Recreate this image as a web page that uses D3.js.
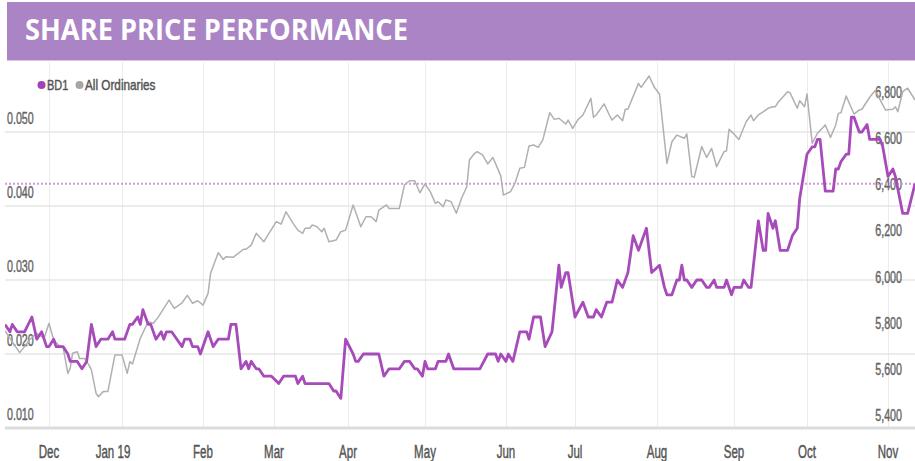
<!DOCTYPE html>
<html>
<head>
<meta charset="utf-8">
<script src="https://cdn.jsdelivr.net/npm/d3@7"></script>
<style>
  html, body { margin: 0; padding: 0; background: #ffffff; }
  svg { display: block; }
</style>
</head>
<body>
<svg id="chart" width="915" height="461"></svg>
<script>
// ---------------- DATA ----------------
const titleText = "SHARE PRICE PERFORMANCE";
const seriesNames = ["BD1", "All Ordinaries"];

const bd1Dates = [
 "2018-11-13","2018-11-15","2018-11-16","2018-11-18","2018-11-21","2018-11-24","2018-11-26","2018-11-28","2018-11-30",
 "2018-12-01","2018-12-03","2018-12-04","2018-12-07","2018-12-09","2018-12-10","2018-12-13","2018-12-15","2018-12-17",
 "2018-12-19","2018-12-21","2018-12-23","2018-12-26","2018-12-28","2018-12-29",
 "2019-01-02","2019-01-04","2019-01-05","2019-01-07","2019-01-08","2019-01-09","2019-01-11","2019-01-12","2019-01-14",
 "2019-01-16","2019-01-17","2019-01-18","2019-01-20","2019-01-22","2019-01-24","2019-01-25","2019-01-27","2019-01-28",
 "2019-01-30","2019-01-31",
 "2019-02-03","2019-02-05","2019-02-07","2019-02-11","2019-02-12","2019-02-14","2019-02-16","2019-02-18","2019-02-19",
 "2019-02-20","2019-02-22","2019-02-23","2019-02-25","2019-02-28",
 "2019-03-03","2019-03-05","2019-03-10","2019-03-11","2019-03-13","2019-03-14","2019-03-24","2019-03-26","2019-03-27",
 "2019-03-29","2019-03-31",
 "2019-04-03","2019-04-04","2019-04-05","2019-04-07","2019-04-13","2019-04-15","2019-04-17","2019-04-21","2019-04-23",
 "2019-04-25","2019-04-27","2019-04-28","2019-04-30",
 "2019-05-01","2019-05-02","2019-05-05","2019-05-06","2019-05-09","2019-05-10","2019-05-12","2019-05-22","2019-05-25",
 "2019-05-28","2019-05-29","2019-05-30",
 "2019-06-01","2019-06-02","2019-06-04","2019-06-07","2019-06-10","2019-06-11","2019-06-13","2019-06-16","2019-06-18",
 "2019-06-21","2019-06-24","2019-06-25","2019-06-27","2019-06-28",
 "2019-07-01","2019-07-04","2019-07-06","2019-07-08","2019-07-09","2019-07-11","2019-07-13","2019-07-15","2019-07-17",
 "2019-07-19","2019-07-21","2019-07-23","2019-07-25","2019-07-28","2019-07-30",
 "2019-08-02","2019-08-04","2019-08-05","2019-08-07","2019-08-09","2019-08-10","2019-08-11","2019-08-12","2019-08-13",
 "2019-08-15","2019-08-17","2019-08-19","2019-08-21","2019-08-22","2019-08-24","2019-08-25","2019-08-28","2019-08-29",
 "2019-08-31",
 "2019-09-01","2019-09-04","2019-09-05","2019-09-07","2019-09-08","2019-09-11","2019-09-13","2019-09-14","2019-09-15",
 "2019-09-17","2019-09-18","2019-09-20","2019-09-23","2019-09-25","2019-09-27","2019-09-28","2019-09-29",
 "2019-10-01","2019-10-03","2019-10-04","2019-10-05","2019-10-06","2019-10-08","2019-10-11","2019-10-12","2019-10-13",
 "2019-10-14","2019-10-16","2019-10-17","2019-10-18","2019-10-19","2019-10-21","2019-10-22","2019-10-24","2019-10-25",
 "2019-10-27","2019-10-29","2019-10-30",
 "2019-11-01","2019-11-03","2019-11-04","2019-11-07","2019-11-09","2019-11-12"
];
const bd1Values = [
 0.024,0.023,0.024,0.023,0.023,0.025,0.022,0.023,0.021,
 0.021,0.022,0.021,0.021,0.020,0.019,0.019,0.018,0.019,
 0.024,0.021,0.022,0.022,0.023,0.022,
 0.022,0.024,0.024,0.025,0.024,0.026,0.024,0.024,0.022,
 0.023,0.022,0.023,0.023,0.022,0.021,0.022,0.022,0.021,
 0.021,0.020,
 0.023,0.021,0.022,0.022,0.024,0.024,0.018,0.019,0.018,
 0.019,0.018,0.018,0.017,0.017,
 0.016,0.017,0.017,0.016,0.017,0.016,0.016,0.015,0.015,
 0.014,0.022,
 0.020,0.019,0.019,0.020,0.020,0.017,0.018,0.018,0.019,
 0.019,0.018,0.018,0.017,
 0.019,0.018,0.018,0.019,0.019,0.020,0.018,0.018,0.020,
 0.020,0.019,0.020,
 0.019,0.020,0.019,0.023,0.023,0.022,0.025,0.025,0.021,
 0.023,0.032,0.029,0.031,0.031,
 0.025,0.027,0.025,0.025,0.026,0.025,0.027,0.027,0.030,
 0.029,0.031,0.036,0.034,0.037,0.031,
 0.032,0.029,0.028,0.028,0.030,0.030,0.032,0.030,0.030,
 0.029,0.030,0.030,0.029,0.029,0.030,0.029,0.029,0.030,
 0.028,
 0.029,0.029,0.030,0.029,0.029,0.038,0.034,0.034,0.039,
 0.037,0.038,0.034,0.034,0.036,0.037,0.041,0.043,
 0.047,0.048,0.048,0.049,0.049,0.042,0.042,0.045,0.045,
 0.046,0.047,0.047,0.052,0.052,0.050,0.050,0.051,0.049,
 0.049,0.049,0.048,
 0.044,0.045,0.044,0.039,0.039,0.043
];

const aordDates = [
 "2018-11-13","2018-11-16","2018-11-19","2018-11-21","2018-11-23","2018-11-26","2018-11-29",
 "2018-12-01","2018-12-03","2018-12-05","2018-12-07","2018-12-09","2018-12-10","2018-12-11","2018-12-13","2018-12-14",
 "2018-12-16","2018-12-18","2018-12-19","2018-12-21","2018-12-22","2018-12-24","2018-12-26","2018-12-29",
 "2019-01-01","2019-01-03","2019-01-04","2019-01-05","2019-01-08","2019-01-11","2019-01-13","2019-01-15","2019-01-17",
 "2019-01-19","2019-01-21","2019-01-24","2019-01-26","2019-01-28","2019-01-30",
 "2019-02-01","2019-02-03","2019-02-04","2019-02-07","2019-02-09","2019-02-10","2019-02-13","2019-02-14","2019-02-17",
 "2019-02-18","2019-02-20","2019-02-22","2019-02-25","2019-02-27",
 "2019-03-02","2019-03-04","2019-03-06","2019-03-09","2019-03-11","2019-03-13","2019-03-14","2019-03-16","2019-03-17",
 "2019-03-19","2019-03-21","2019-03-22","2019-03-24","2019-03-27","2019-03-29","2019-03-31",
 "2019-04-03","2019-04-06","2019-04-08","2019-04-10","2019-04-12","2019-04-13","2019-04-14","2019-04-16","2019-04-17",
 "2019-04-21","2019-04-23","2019-04-25","2019-04-27","2019-04-29",
 "2019-05-01","2019-05-03","2019-05-05","2019-05-06","2019-05-08","2019-05-09","2019-05-11","2019-05-13","2019-05-15",
 "2019-05-17","2019-05-18","2019-05-20","2019-05-21","2019-05-23","2019-05-25","2019-05-27","2019-05-30","2019-05-31",
 "2019-06-03","2019-06-05","2019-06-07","2019-06-09","2019-06-11","2019-06-13","2019-06-15","2019-06-17","2019-06-20",
 "2019-06-22","2019-06-24","2019-06-27","2019-06-28","2019-06-30",
 "2019-07-02","2019-07-04","2019-07-07","2019-07-08","2019-07-09","2019-07-12","2019-07-14","2019-07-15","2019-07-17",
 "2019-07-19","2019-07-20","2019-07-21","2019-07-25","2019-07-26","2019-07-29","2019-07-31",
 "2019-08-02","2019-08-05","2019-08-07","2019-08-09","2019-08-12","2019-08-13","2019-08-15","2019-08-16","2019-08-19",
 "2019-08-21","2019-08-23","2019-08-25","2019-08-28","2019-08-29","2019-08-30",
 "2019-09-01","2019-09-03","2019-09-06","2019-09-08","2019-09-09","2019-09-11","2019-09-13","2019-09-15","2019-09-17",
 "2019-09-18","2019-09-19","2019-09-23","2019-09-24","2019-09-27","2019-09-28","2019-09-30",
 "2019-10-01","2019-10-03","2019-10-05","2019-10-08","2019-10-10","2019-10-12","2019-10-13","2019-10-14","2019-10-16",
 "2019-10-19","2019-10-21","2019-10-22","2019-10-25","2019-10-27","2019-10-28","2019-10-31",
 "2019-11-03","2019-11-04","2019-11-05","2019-11-07","2019-11-09","2019-11-12"
];
const aordValues = [
 5826,5778,5731,5757,5786,5815,5793,
 5858,5786,5764,5754,5641,5663,5728,5735,5706,
 5706,5677,5656,5554,5540,5562,5562,5721,
 5721,5641,5692,5682,5793,5865,5858,5887,5923,
 5959,5923,5947,5979,5945,5956,
 5937,5988,6075,6164,6135,6147,6144,6154,6179,
 6179,6197,6248,6212,6248,
 6299,6288,6342,6291,6262,6248,6270,6270,6284,
 6277,6255,6270,6212,6219,6255,6262,
 6371,6277,6320,6320,6299,6349,6356,6371,6356,
 6356,6458,6476,6476,6424,
 6462,6429,6378,6385,6364,6393,6385,6335,6400,
 6450,6566,6595,6602,6588,6549,6577,6497,6414,
 6429,6468,6530,6534,6627,6631,6621,6653,6771,
 6742,6747,6722,6739,6703,
 6739,6761,6833,6751,6761,6809,6761,6739,6761,
 6736,6786,6786,6898,6881,6930,6881,
 6852,6551,6645,6674,6660,6679,6494,6491,6624,
 6577,6616,6537,6602,6606,6699,
 6679,6655,6732,6761,6736,6761,6775,6790,6797,
 6797,6814,6862,6858,6790,6823,6797,
 6852,6638,6682,6718,6664,6718,6768,6771,6843,
 6765,6783,6786,6838,6866,6848,6783,
 6786,6797,6775,6862,6877,6826
];

const leftTicks = [0.010, 0.020, 0.030, 0.040, 0.050];
const leftTickLabels = ["0.010", "0.020", "0.030", "0.040", "0.050"];
const rightTicks = [5400, 5600, 5800, 6000, 6200, 6400, 6600, 6800];
const monthTicks = ["2018-12-01","2019-01-01","2019-02-01","2019-03-01","2019-04-01","2019-05-01",
                    "2019-06-01","2019-07-01","2019-08-01","2019-09-01","2019-10-01","2019-11-01"];
const monthLabels = ["Dec","Jan 19","Feb","Mar","Apr","May","Jun","Jul","Aug","Sep","Oct","Nov"];

// ---------------- LAYOUT ----------------
const parse = d3.timeParse("%Y-%m-%d");
const W = 915, H = 461;
const plotLeft = 5, plotRight = 915, plotTop = 62, plotBottom = 428;

const colPurple = "#a64bb9";
const colGray = "#b0b0b0";
const colBar = "#ab84c5";

const svg = d3.select("#chart");

// piecewise time scale (the original's month spacing is uneven)
const xDomain = [parse("2018-11-13"), ...monthTicks.map(parse), parse("2019-11-12")];
const xRange = [5, 49, 122, 203, 274, 348, 425, 506, 575, 657, 734, 807, 888, 915];
const x = d3.scaleTime().domain(xDomain).range(xRange);

const yL = d3.scaleLinear().domain([0.010, 0.050]).range([428, 132]);
const yR = d3.scaleLinear().domain([5400, 6800]).range([429, 106]);

// title bar
svg.append("rect").attr("x", 7).attr("y", 2).attr("width", W - 7).attr("height", 58).attr("fill", colBar);
svg.append("text")
  .attr("x", 25).attr("y", 40)
  .attr("font-family", "'Open Sans', 'Noto Sans', sans-serif")
  .attr("font-weight", 700).attr("font-size", 28)
  .attr("fill", "#ffffff")
  .attr("textLength", 383).attr("lengthAdjust", "spacingAndGlyphs")
  .text(titleText);
svg.append("line").attr("x1", 7).attr("x2", W).attr("y1", 60.5).attr("y2", 60.5)
  .attr("stroke", "#d9c4e4").attr("stroke-width", 1);

// gridlines
const grid = svg.append("g");
grid.selectAll("line.v").data(monthTicks).join("line")
  .attr("x1", d => x(parse(d)) + 0.5).attr("x2", d => x(parse(d)) + 0.5)
  .attr("y1", plotTop).attr("y2", plotBottom)
  .attr("stroke", "#ececec").attr("stroke-width", 1);
grid.selectAll("line.h").data(leftTicks.slice(1)).join("line")
  .attr("x1", plotLeft).attr("x2", plotRight)
  .attr("y1", d => yL(d)).attr("y2", d => yL(d))
  .attr("stroke", "#e6e6e6").attr("stroke-width", 1.5);
// bottom axis line
svg.append("line").attr("x1", plotLeft).attr("x2", plotRight)
  .attr("y1", plotBottom).attr("y2", plotBottom)
  .attr("stroke", "#dcdcdc").attr("stroke-width", 3);

// squeezed axis text helper
const axisFont = "'Liberation Sans', Arial, sans-serif";
function sqText(g, px, py, str, anchor, size, sx, fill) {
  return g.append("text")
    .attr("transform", `translate(${px},${py}) scale(${sx},1)`)
    .attr("text-anchor", anchor)
    .attr("font-family", axisFont).attr("font-size", size)
    .attr("fill", fill)
    .attr("stroke", fill).attr("stroke-width", 0.45)
    .text(str);
}

// left axis labels (drawn above their gridline)
const gL = svg.append("g");
leftTicks.forEach((t, i) => sqText(gL, 7, yL(t) - 8, leftTickLabels[i], "start", 17, 0.63, "#666"));

// right axis labels
const gR = svg.append("g");
const fmt = d3.format(",");
rightTicks.forEach(t => sqText(gR, 902, yR(t) - 8, fmt(t), "end", 17, 0.63, "#666"));

// month labels
const gX = svg.append("g");
monthTicks.forEach((m, i) => {
  const lab = monthLabels[i];
  const shift = lab.length > 3 ? -9 : 0;
  sqText(gX, x(parse(m)) + shift, 458, lab, "middle", 18, 0.64, "#555");
});

// clip
svg.append("clipPath").attr("id", "plotclip").append("rect")
  .attr("x", plotLeft).attr("y", plotTop).attr("width", plotRight - plotLeft).attr("height", plotBottom - plotTop);

const aordData = aordDates.map((d, i) => ({ date: parse(d), v: aordValues[i] }));
const bd1Data = bd1Dates.map((d, i) => ({ date: parse(d), v: bd1Values[i] }));

const lines = svg.append("g").attr("clip-path", "url(#plotclip)");

lines.append("path").datum(aordData)
  .attr("fill", "none").attr("stroke", colGray).attr("stroke-width", 1.5)
  .attr("stroke-linejoin", "round")
  .attr("d", d3.line().x(d => x(d.date)).y(d => yR(d.v)));

// last price dotted line
const lastPrice = bd1Values[bd1Values.length - 1];
lines.append("line")
  .attr("x1", plotLeft).attr("x2", plotRight)
  .attr("y1", yL(lastPrice)).attr("y2", yL(lastPrice))
  .attr("stroke", "#cf9bdc").attr("stroke-width", 2).attr("stroke-dasharray", "2,2");

lines.append("path").datum(bd1Data)
  .attr("fill", "none").attr("stroke", colPurple).attr("stroke-width", 2.8)
  .attr("stroke-linejoin", "round")
  .attr("d", d3.line().x(d => x(d.date)).y(d => yL(d.v)));

// legend
const leg = svg.append("g");
leg.append("circle").attr("cx", 41.5).attr("cy", 85).attr("r", 4).attr("fill", "#a441b5");
sqText(leg, 47, 90, seriesNames[0], "start", 14, 0.78, "#555");
leg.append("circle").attr("cx", 79.5).attr("cy", 85).attr("r", 4).attr("fill", "#a6a6a6");
sqText(leg, 85, 90, seriesNames[1], "start", 14, 0.84, "#555");
</script>
</body>
</html>
